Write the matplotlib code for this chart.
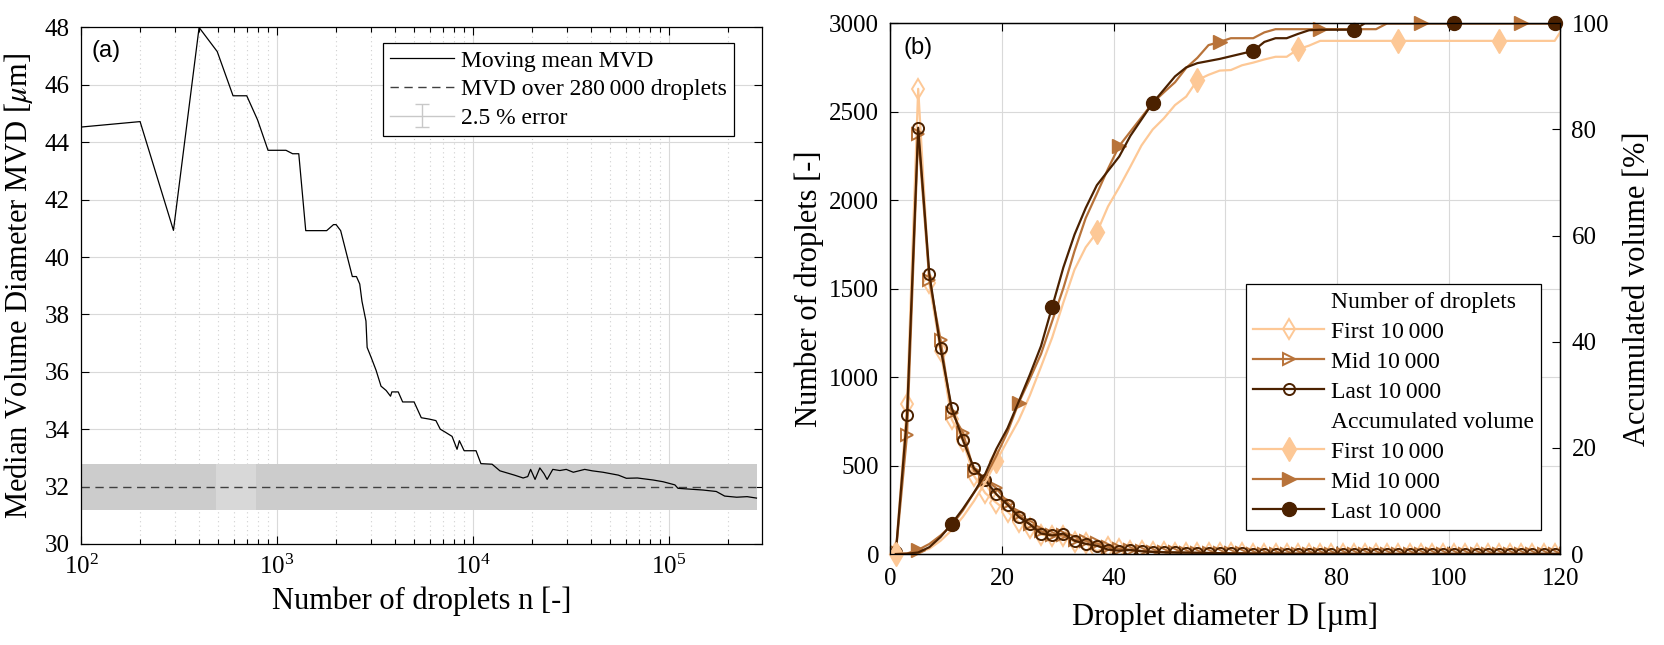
import matplotlib
matplotlib.use("Agg")
import matplotlib.pyplot as plt
from matplotlib.lines import Line2D
import numpy as np

plt.rcParams['font.family'] = ['Liberation Serif', 'DejaVu Serif']
plt.rcParams['mathtext.fontset'] = 'stix'
plt.rcParams['axes.linewidth'] = 0.9

# ---- panel (a): moving mean MVD ----
n_drops = [100, 200, 296, 400, 495, 596, 700, 795, 899, 1110, 1200, 1290, 1400,
           1790, 1940, 2000, 2110, 2420, 2540, 2640, 2710, 2840, 2880, 3020, 3200,
           3390, 3600, 3790, 3850, 4150, 4370, 5000, 5440, 6000, 6460, 6800, 7200,
           7810, 8280, 8510, 9000, 10350, 10960, 12500, 13700, 16250, 18000, 19000,
           19650, 20700, 21900, 23000, 23850, 25500, 27700, 29850, 32450, 37100,
           40500, 46000, 55100, 60500, 68900, 82800, 93100, 107000, 111000, 149000,
           174000, 192000, 221000, 250000, 279000]
mvd_mean = [44.53, 44.72, 40.93, 48.0, 47.16, 45.62, 45.62, 44.78, 43.72, 43.72,
            43.60, 43.60, 40.92, 40.92, 41.13, 41.13, 40.92, 39.32, 39.32, 39.06,
            38.46, 37.77, 36.85, 36.50, 36.05, 35.50, 35.35, 35.15, 35.30, 35.30,
            34.95, 34.95, 34.40, 34.35, 34.30, 34.00, 33.90, 33.75, 33.30, 33.60,
            33.25, 33.25, 32.80, 32.78, 32.55, 32.40, 32.30, 32.35, 32.60, 32.25,
            32.65, 32.45, 32.25, 32.60, 32.56, 32.60, 32.50, 32.60, 32.55, 32.50,
            32.40, 32.29, 32.30, 32.23, 32.17, 32.06, 31.94, 31.88, 31.83, 31.67,
            31.63, 31.65, 31.60]
mvd_total = 32.0
mvd_err = 0.025 * mvd_total
n_total = 280000

# ---- panel (b): droplet size distributions ----
diam = list(range(1, 122, 2))
tail_small = [4, 4, 3, 3, 3, 2, 2, 2, 2, 2, 2, 1, 1, 1, 1, 1, 1, 1, 1, 1, 1, 1, 1,
              1, 1, 1, 1, 1, 1, 1, 0]
num_first = [10, 850, 2630, 1530, 1150, 762, 640, 442, 345, 290, 240, 180, 150, 110,
             100, 100, 70, 60, 16, 40, 30, 20, 15, 12, 10, 8, 7, 6, 5, 5] + tail_small
num_mid = [10, 675, 2375, 1549, 1211, 800, 687, 470, 420, 373, 290, 225, 170, 130,
           110, 105, 80, 75, 60, 40, 30, 25, 18, 14, 11, 9, 8, 7, 6, 5] + tail_small
num_last = [10, 785, 2410, 1584, 1165, 827, 645, 484, 419, 338, 279, 210, 168, 116,
            105, 116, 75, 58, 47, 25, 19, 23, 16, 12, 10, 9, 8, 7, 6, 5] + tail_small

vol_first = [0, 0.1, 0.3, 1.0, 2.5, 4.5, 7.0, 10.0, 13.5, 17.5, 21.4, 25.2, 29.9,
             35.3, 40.8, 47.4, 53.6, 57.8, 60.6, 65.5, 69.1, 73.0, 77.0, 80.0, 82.1,
             84.6, 86.2, 89.3, 90.3, 91.1, 91.2, 92.1, 92.6, 93.2, 93.7, 93.7, 95.1,
             95.8, 96.7] + [96.7] * 21 + [100]
vol_mid = [0, 0.1, 0.8, 1.9, 3.5, 5.4, 8.2, 11.6, 14.4, 18.5, 23.0, 28.5, 33.0,
           37.7, 43.9, 50.1, 57.1, 63.3, 67.9, 72.6, 76.9, 79.6, 82.3, 85.0, 87.0,
           88.9, 91.6, 93.5, 95.9, 96.5, 97.2, 97.2, 97.2, 98.3, 98.9] + [98.9] * 9 + [100] * 17
vol_last = [0, 0.05, 0.3, 1.3, 3.2, 5.7, 8.5, 11.6, 15.1, 19.8, 23.7, 28.7, 33.8,
            39.2, 46.6, 54.0, 60.2, 65.2, 69.5, 72.2, 74.9, 78.8, 81.9, 85.0, 87.5,
            90.0, 91.7, 92.5, 92.9, 93.3, 93.8, 94.3, 94.8, 96.5, 97.2, 97.2, 98.0,
            98.7] + [98.8] * 4 + [100] * 19

c_first = '#FDC896'
c_mid = '#B8733A'
c_last = '#4B2100'

fig = plt.figure(figsize=(16.65, 6.45), dpi=100)

# ================= (a) =================
ax = fig.add_axes([0.0487, 0.1566, 0.409, 0.8008])
ax.fill_between([n_drops[0], n_total], mvd_total - mvd_err, mvd_total + mvd_err,
                color='#cccccc', lw=0, zorder=1)
# lighter streak in the error band, as in the original rendering
ax.fill_between([490, 780], mvd_total - mvd_err, mvd_total + mvd_err,
                color='#d8d8d8', lw=0, zorder=1)
err_h = ax.errorbar([np.nan], [np.nan], yerr=[mvd_err], color='#c8c8c8', lw=1,
                    capsize=5)
line_h, = ax.plot(n_drops, mvd_mean, color='k', lw=0.9, zorder=3)
dash_h = ax.axhline(mvd_total, color='#404040', lw=1.0, ls=(0, (6, 4)), zorder=2)
ax.set_xscale('log')
ax.set_xlim(100, 2.98e5)
ax.set_ylim(30, 48)
ax.set_yticks(range(30, 49, 2))
ax.grid(True, which='major', color='#d9d9d9', lw=0.8)
ax.grid(True, which='minor', axis='x', color='#cfcfcf', lw=0.8, ls=(0, (1, 3)))
ax.set_axisbelow(True)
ax.tick_params(which='both', direction='in', top=True, right=True, labelsize=18,
               length=6, width=0.8, pad=8)
ax.tick_params(which='minor', length=3.5)
ax.set_xlabel('Number of droplets n [-]', fontsize=22, labelpad=5)
ax.set_ylabel('Median Volume Diameter MVD [$\\mu$m]', fontsize=22, labelpad=7)
ax.text(0.016, 0.976, '(a)', transform=ax.transAxes, ha='left', va='top',
        fontsize=17, family=['Liberation Sans', 'DejaVu Sans'])
leg = ax.legend([line_h, dash_h, err_h],
                ['Moving mean MVD', 'MVD over 280\u2009000 droplets', '2.5 % error'],
                loc='upper left', bbox_to_anchor=(0.443, 0.970), borderaxespad=0,
                fontsize=17, frameon=True, fancybox=False, framealpha=1,
                edgecolor='k', handlelength=2.7, handletextpad=0.3,
                labelspacing=0.3, borderpad=0.3)
leg.get_frame().set_linewidth(0.9)

# ================= (b) =================
bx = fig.add_axes([0.5347, 0.141, 0.4024, 0.8228])
bx2 = bx.twinx()

for vals, col, mk, ms in [(num_first, c_first, 'd', 10), (num_mid, c_mid, '>', 8),
                          (num_last, c_last, 'o', 8)]:
    bx.plot(diam, vals, color=col, lw=1.6, marker=mk, ms=ms, mfc='none',
            mec=col, mew=1.4)

for vals, col, mk, ms, start in [(vol_first, c_first, 'd', 12, 0),
                                 (vol_mid, c_mid, '>', 10, 2),
                                 (vol_last, c_last, 'o', 10, 5)]:
    bx2.plot(diam, vals, color=col, lw=1.6)
    bx2.plot(diam[start::9], vals[start::9], ls='none', marker=mk, ms=ms,
             mfc=col, mec=col, clip_on=False)

bx.set_xlim(0, 120)
bx.set_ylim(0, 3000)
bx.set_xticks(range(0, 121, 20))
bx.set_yticks(range(0, 3001, 500))
bx2.set_ylim(0, 100)
bx2.set_yticks(range(0, 101, 20))
bx.grid(True, color='#d9d9d9', lw=0.8)
bx.set_axisbelow(True)
bx.tick_params(direction='in', top=True, labelsize=18, length=6, width=0.8, pad=8)
bx.tick_params(axis='x', pad=10)
bx2.tick_params(direction='in', labelsize=18, length=6, width=0.8, pad=8)
bx.set_xlabel('Droplet diameter D [\u00b5m]', fontsize=22, labelpad=9)
bx.set_ylabel('Number of droplets [-]', fontsize=22, labelpad=4)
bx2.set_ylabel('Accumulated volume [%]', fontsize=22, labelpad=10)
bx.text(0.019, 0.974, '(b)', transform=bx.transAxes, ha='left', va='top',
        fontsize=17, family=['Liberation Sans', 'DejaVu Sans'])

blank = Line2D([], [], lw=0, marker=None)
hs = [blank]
for col, mk, ms in [(c_first, 'd', 10), (c_mid, '>', 8), (c_last, 'o', 8)]:
    hs.append(Line2D([], [], color=col, lw=1.6, marker=mk, ms=ms, mfc='none', mec=col, mew=1.4))
hs.append(blank)
for col, mk, ms in [(c_first, 'd', 12), (c_mid, '>', 10), (c_last, 'o', 10)]:
    hs.append(Line2D([], [], color=col, lw=1.6, marker=mk, ms=ms, mfc=col, mec=col))
labels = ['Number of droplets', 'First 10\u2009000', 'Mid 10\u2009000', 'Last 10\u2009000',
          'Accumulated volume', 'First 10\u2009000', 'Mid 10\u2009000', 'Last 10\u2009000']
leg2 = bx2.legend(hs, labels, loc='upper left', bbox_to_anchor=(0.531, 0.509),
                  borderaxespad=0, fontsize=17, frameon=True, fancybox=False,
                  framealpha=1, edgecolor='k', handlelength=3.0, handletextpad=0.3,
                  labelspacing=0.36, borderpad=0.3)
leg2.get_frame().set_linewidth(0.9)

fig.savefig('out.png', dpi=100)
